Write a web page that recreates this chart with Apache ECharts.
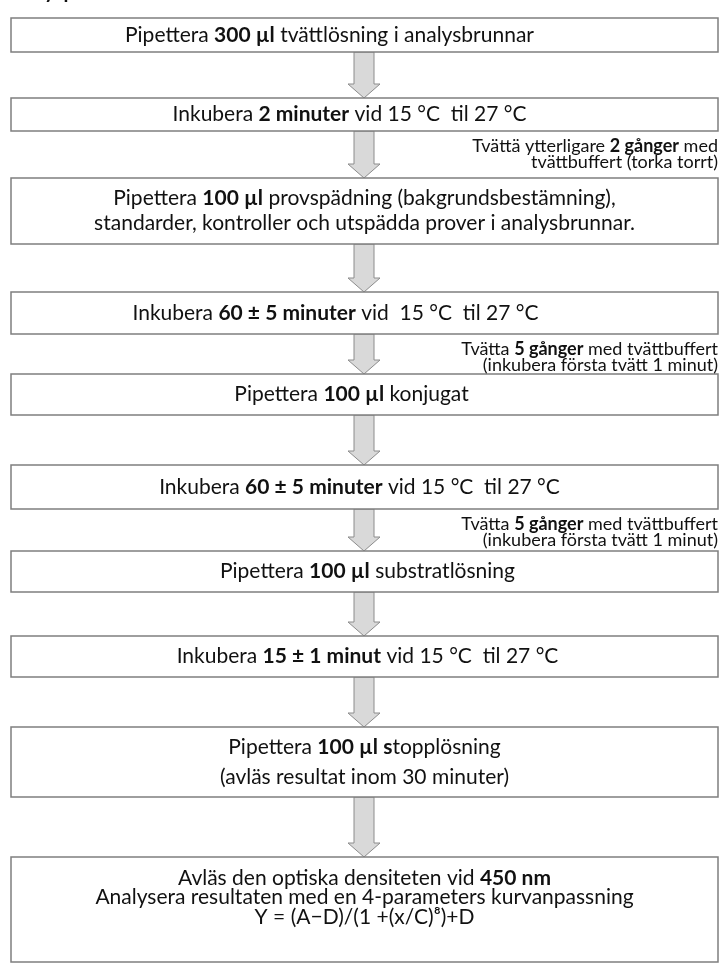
<!DOCTYPE html>
<html>
<head>
<meta charset="utf-8">
<script src="https://cdn.jsdelivr.net/npm/echarts@6/dist/echarts.min.js"></script>
<style>
  html, body { margin: 0; padding: 0; background: #fff; }
  #main { width: 721px; height: 964px; }
</style>
</head>
<body>
<div id="main"></div>
<script>
// steps of the flow, {b|..} = bold part
var stepTexts = [
  'Pipettera {b|300 µl} tvättlösning i analysbrunnar',
  'Inkubera {b|2 minuter} vid 15 °C  til 27 °C',
  'Pipettera {b|100 µl} provspädning (bakgrundsbestämning),\nstandarder, kontroller och utspädda prover i analysbrunnar.',
  'Inkubera {b|60 ± 5 minuter} vid  15 °C  til 27 °C',
  'Pipettera {b|100 µl} konjugat',
  'Inkubera {b|60 ± 5 minuter} vid 15 °C  til 27 °C',
  'Pipettera {b|100 µl} substratlösning',
  'Inkubera {b|15 ± 1 minut} vid 15 °C  til 27 °C',
  'Pipettera {b|100 µl s}topplösning\n(avläs resultat inom 30 minuter)',
  'Avläs den optiska densiteten vid {b|450 nm}\nAnalysera resultaten med en 4-parameters kurvanpassning\nY = (A\u2212D)/(1 +(x/C)\u2078)+D'
];
// wash notes and the step they come after
var washNotes = [
  'Tvättä ytterligare {b|2 gånger} med\ntvättbuffert (torka torrt)',
  'Tvätta {b|5 gånger} med tvättbuffert\n(inkubera första tvätt 1 minut)',
  'Tvätta {b|5 gånger} med tvättbuffert\n(inkubera första tvätt 1 minut)'
];
var washAfterStep = [1, 3, 5];
var heading = 'Analysprocedur';

// layout of the boxes on the page (axis units = px)
var boxTop    = [18, 98, 178, 292, 374, 465, 551, 636, 727, 857];
var boxBottom = [52, 131, 244, 334, 415, 509, 592, 677, 797, 962];
var textShift = [-35, -15, 0, -29, -13, -5, 3, 3, 0, 0];
var textLift  = [0, 0, 0, 0, 0, 0, 0, 0, 0, -12];
var lineGap   = [20, 20, 25, 20, 20, 20, 20, 20, 30, 19.5];
var boxLeft = 11, boxRight = 718, arrowX = 364;

var FONT = 'Lato';
var SIZE = 21;
var NOTE_SIZE = 18;

var chartDom = document.getElementById('main');
var myChart = echarts.init(chartDom, null, { renderer: 'canvas' });
var option;

option = {
  animation: false,
  backgroundColor: '#fff',
  grid: { left: 0, right: 0, top: 0, bottom: 0 },
  xAxis: { type: 'value', min: 0, max: 721, show: false },
  yAxis: { type: 'value', min: 0, max: 964, inverse: true, show: false },
  graphic: [{
    type: 'text',
    left: 4,
    top: -18,
    style: { text: heading, fontSize: 20, fontWeight: 'bold', fontFamily: FONT, fill: '#111' }
  }],
  series: [
    {
      // arrows between the boxes
      type: 'custom',
      coordinateSystem: 'cartesian2d',
      data: stepTexts.slice(0, -1).map(function (t, i) { return [i]; }),
      renderItem: function (params, api) {
        var i = api.value(0);
        var y0 = boxBottom[i], y1 = boxTop[i + 1];
        var head = 14;
        var pts = [
          [arrowX - 10, y0], [arrowX + 10, y0], [arrowX + 10, y1 - head], [arrowX + 16, y1 - head],
          [arrowX, y1], [arrowX - 16, y1 - head], [arrowX - 10, y1 - head]
        ].map(function (p) { return api.coord(p); });
        return {
          type: 'polygon',
          shape: { points: pts },
          style: { fill: '#d9d9d9', stroke: '#8c8c8c', lineWidth: 1 }
        };
      },
      z: 1
    },
    {
      // step boxes
      type: 'custom',
      coordinateSystem: 'cartesian2d',
      data: stepTexts.map(function (t, i) { return [i]; }),
      renderItem: function (params, api) {
        var i = api.value(0);
        var p0 = api.coord([boxLeft, boxTop[i]]);
        var p1 = api.coord([boxRight, boxBottom[i]]);
        var c = api.coord([(boxLeft + boxRight) / 2 + textShift[i], (boxTop[i] + boxBottom[i]) / 2 + textLift[i]]);
        return {
          type: 'group',
          children: [
            {
              type: 'rect',
              shape: { x: p0[0], y: p0[1], width: p1[0] - p0[0], height: p1[1] - p0[1] },
              style: { fill: '#fff', stroke: '#7f7f7f', lineWidth: 1.5 }
            },
            {
              type: 'text',
              style: {
                text: stepTexts[i],
                x: c[0], y: c[1],
                align: 'center', verticalAlign: 'middle',
                fontSize: SIZE, fontFamily: FONT, fill: '#111',
                lineHeight: lineGap[i],
                rich: {
                  b: { fontWeight: 'bold', fontSize: SIZE, fontFamily: FONT, lineHeight: lineGap[i], fill: '#111', align: 'center' }
                }
              }
            }
          ]
        };
      },
      z: 2
    },
    {
      // wash notes on the right
      type: 'custom',
      coordinateSystem: 'cartesian2d',
      data: washNotes.map(function (t, i) { return [i]; }),
      renderItem: function (params, api) {
        var i = api.value(0);
        var s = washAfterStep[i];
        var p = api.coord([boxRight, boxBottom[s] + 23]);
        return {
          type: 'text',
          style: {
            text: washNotes[i],
            x: p[0], y: p[1],
            align: 'right', verticalAlign: 'middle',
            fontSize: NOTE_SIZE, fontFamily: FONT, fill: '#111',
            lineHeight: 16,
            rich: {
              b: { fontWeight: 'bold', fontSize: NOTE_SIZE, fontFamily: FONT, lineHeight: 16, fill: '#111', align: 'right' }
            }
          }
        };
      },
      z: 3
    }
  ]
};

option && myChart.setOption(option);
</script>
</body>
</html>
